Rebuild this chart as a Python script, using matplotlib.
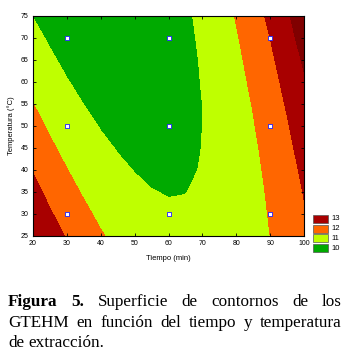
import numpy as np
import matplotlib
matplotlib.use("Agg")
import matplotlib.pyplot as plt
from matplotlib.patches import Rectangle

# grid of response values (GTEHM)
tiempo = [20, 25, 30, 35, 40, 45, 50, 55, 60, 65, 70, 75, 80, 85, 90, 95, 100]
temperatura = [25, 30, 35, 40, 45, 50, 55, 60, 65, 70, 75]
Z = [
    [12.95, 12.44, 11.92, 11.46, 11.08, 10.76, 10.51, 10.33, 10.22, 10.18, 10.21, 10.30, 10.47, 10.70, 11.00, 11.37, 11.81],
    [12.66, 12.09, 11.60, 11.18, 10.82, 10.54, 10.32, 10.17, 10.09, 10.08, 10.13, 10.26, 10.45, 10.72, 11.05, 11.45, 11.92],
    [12.29, 11.76, 11.30, 10.91, 10.58, 10.33, 10.14, 10.02, 9.97, 9.99, 10.08, 10.23, 10.46, 10.75, 11.11, 11.54, 12.04],
    [11.95, 11.45, 11.02, 10.65, 10.36, 10.13, 9.98, 9.89, 9.87, 9.92, 10.03, 10.22, 10.48, 10.80, 11.19, 11.65, 12.18],
    [11.62, 11.15, 10.75, 10.42, 10.15, 9.96, 9.83, 9.77, 9.78, 9.86, 10.01, 10.22, 10.51, 10.86, 11.29, 11.78, 12.34],
    [11.31, 10.87, 10.50, 10.19, 9.96, 9.79, 9.70, 9.67, 9.71, 9.82, 10.00, 10.25, 10.56, 10.95, 11.40, 11.92, 12.51],
    [11.01, 10.60, 10.26, 9.99, 9.78, 9.65, 9.58, 9.58, 9.66, 9.80, 10.00, 10.28, 10.63, 11.04, 11.53, 12.08, 12.70],
    [10.73, 10.35, 10.04, 9.80, 9.62, 9.52, 9.48, 9.52, 9.62, 9.79, 10.03, 10.33, 10.71, 11.16, 11.67, 12.25, 12.90],
    [10.46, 10.12, 9.83, 9.62, 9.48, 9.41, 9.40, 9.46, 9.59, 9.80, 10.06, 10.40, 10.81, 11.28, 11.83, 12.44, 13.12],
    [10.22, 9.90, 9.65, 9.46, 9.35, 9.31, 9.33, 9.43, 9.59, 9.82, 10.12, 10.49, 10.92, 11.43, 12.00, 12.65, 13.36],
    [9.98, 9.69, 9.47, 9.32, 9.24, 9.23, 9.28, 9.41, 9.60, 9.86, 10.19, 10.59, 11.05, 11.59, 12.20, 12.87, 13.61],
]

levels = [0, 10, 11, 12, 13, 20]
colors = ["#00AA00", "#BFFF00", "#FF6600", "#A80000", "#800000"]
legend_labels = ["13", "12", "11", "10"]
legend_colors = ["#A80000", "#FF6600", "#BFFF00", "#00AA00"]
design_t = [30, 30, 30, 60, 60, 60, 90, 90, 90]
design_T = [30, 50, 70, 30, 50, 70, 30, 50, 70]

W = 351
fig = plt.figure(figsize=(3.51, 3.51), dpi=100)
ax = fig.add_axes([33 / W, 1 - 236 / W, (304 - 33) / W, (236 - 16) / W])
ax.contourf(tiempo, temperatura, np.array(Z), levels=levels, colors=colors)
ax.scatter(design_t, design_T, marker="s", s=5, facecolor="white", edgecolor="#2020FF",
           linewidths=0.6, zorder=5)
ax.set_xlim(20, 100)
ax.set_ylim(25, 75)
ax.set_xticks(np.arange(20, 101, 10))
ax.set_yticks(np.arange(25, 76, 5))
ax.tick_params(direction="in", length=2, width=0.6, labelsize=5, top=True, right=True, pad=3)
for lab in ax.get_xticklabels() + ax.get_yticklabels():
    lab.set_family("Liberation Sans")
for s in ax.spines.values():
    s.set_linewidth(0.8)
ax.set_xlabel("Tiempo (min)", fontsize=5.5, family="Liberation Sans", labelpad=6)
ax.set_ylabel("Temperatura (°C)", fontsize=5.5, family="Liberation Sans", labelpad=4)

# legend
ys = [215, 225, 234, 244]
for lab, c, yy in zip(legend_labels, legend_colors, ys):
    fig.add_artist(Rectangle((313 / W, 1 - (yy + 8) / W), 15 / W, 8 / W, facecolor=c,
                             edgecolor="#555555", lw=0.5, transform=fig.transFigure))
    fig.text(331 / W, 1 - (yy + 4) / W, lab, fontsize=5.5, family="Liberation Sans",
             va="center", ha="left")

# caption, justified
lines = [
    (["Figura", "5.", "Superficie", "de", "contornos", "de", "los"], 306, True),
    (["GTEHM", "en", "función", "del", "tiempo", "y", "temperatura"], 327, True),
    (["de", "extracción."], 347, False),
]
bold_words = {"Figura", "5."}
fig.canvas.draw()
r = fig.canvas.get_renderer()
x0, x1 = 8, 342
for li, (words, ybase, just) in enumerate(lines):
    texts = []
    for w in words:
        weight = "bold" if (li == 0 and w in bold_words) else "normal"
        tt = fig.text(0, 1 - ybase / W, w, fontsize=12.3, family="Liberation Serif",
                      weight=weight, va="baseline")
        texts.append(tt)
    widths = [tt.get_window_extent(r).width for tt in texts]
    if just:
        gap = (x1 - x0 - sum(widths)) / (len(words) - 1)
    else:
        gap = 4.3
    x = x0
    for tt, wdt in zip(texts, widths):
        tt.set_x(x / W)
        x += wdt + gap

fig.savefig("out.png", dpi=100)
